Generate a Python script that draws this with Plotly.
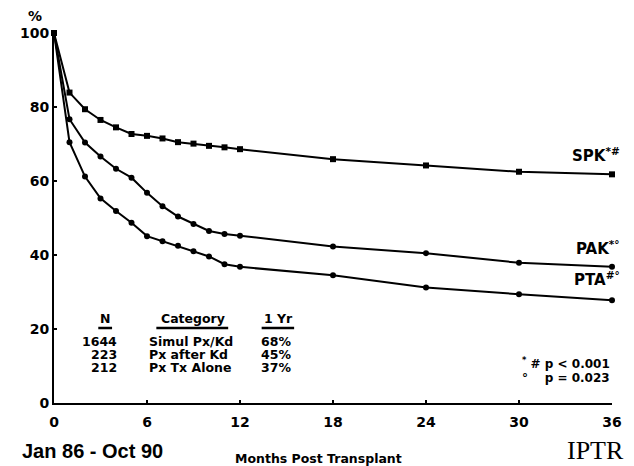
import plotly.graph_objects as go

months = [0, 1, 2, 3, 4, 5, 6, 7, 8, 9, 10, 11, 12, 18, 24, 30, 36]
spk = [100, 83.9, 79.4, 76.5, 74.5, 72.7, 72.2, 71.5, 70.5, 70.1, 69.5, 69.1, 68.6, 65.9, 64.2, 62.5, 61.8]
pak = [100, 76.7, 70.4, 66.6, 63.3, 60.9, 56.8, 53.2, 50.4, 48.4, 46.5, 45.7, 45.2, 42.3, 40.5, 37.9, 36.8]
pta = [100, 70.5, 61.2, 55.3, 51.9, 48.7, 45.1, 43.7, 42.5, 41.0, 39.6, 37.5, 36.8, 34.5, 31.2, 29.4, 27.8]
series_labels = ["SPK<sup>*#</sup>", "PAK<sup>*°</sup>", "PTA<sup>#°</sup>"]
x_ticks = [0, 6, 12, 18, 24, 30, 36]
y_ticks = [0, 20, 40, 60, 80, 100]
table_n = ["1644", "223", "212"]
table_cat = ["Simul Px/Kd", "Px after Kd", "Px Tx Alone"]
table_1yr = ["68%", "45%", "37%"]

DJ = "DejaVu Sans, sans-serif"
LIB = "Liberation Sans, Arial, sans-serif"
SERIF = "Liberation Serif, Times New Roman, serif"

fig = go.Figure()
for vals, sym, sz in [(spk, "square", 6), (pak, "circle", 6), (pta, "circle", 6)]:
    fig.add_trace(go.Scatter(x=months, y=vals, mode="lines+markers",
                             line=dict(color="black", width=2),
                             marker=dict(color="black", size=sz, symbol=sym),
                             cliponaxis=False, showlegend=False, hoverinfo="skip"))

# page body has an 8px margin; the figure is sized to fit the 634x466 window
fig.update_layout(
    width=626, height=458,
    margin=dict(l=41, r=18, t=25, b=63),
    paper_bgcolor="white", plot_bgcolor="white",
    font=dict(family=DJ, color="black"),
    xaxis=dict(range=[0, 36], tickvals=x_ticks, showgrid=False, zeroline=False,
               showline=True, linecolor="black", linewidth=2,
               ticks="inside", ticklen=3, tickwidth=1.5, tickcolor="black",
               ticklabelstandoff=5,
               tickfont=dict(size=14, weight="bold", family=DJ, color="black")),
    yaxis=dict(range=[0, 100], tickvals=y_ticks, showgrid=False, zeroline=False,
               showline=True, linecolor="black", linewidth=2,
               ticks="inside", ticklen=3, tickwidth=1.5, tickcolor="black",
               tickfont=dict(size=14, weight="bold", family=DJ, color="black")),
)

def px(xp, yp):
    # reference pixel -> plot-area paper coordinates
    return (xp - 49) / 567.0, (403 - yp) / 370.0

ann = []
def txt(xp, yp, s, size=12, xanchor="left", fam=DJ, weight="bold"):
    x0, y0 = px(xp, yp)
    ann.append(dict(x=x0, y=y0, xref="paper", yref="paper", text=s, showarrow=False,
                    xanchor=xanchor, yanchor="middle",
                    font=dict(size=size, family=fam, weight=weight, color="black")))

# series labels
for lab, yp in zip(series_labels, [155, 248, 279]):
    txt(626, yp, lab, size=15, xanchor="right")

txt(30, 16, "%", size=14, xanchor="center")
txt(14, 451, "Jan 86 - Oct 90", size=20, fam=LIB)
txt(231, 458, "Months Post Transplant", size=12.5)
txt(630, 450, "IPTR", size=26, xanchor="right", fam=SERIF, weight="normal")

# table
txt(101, 318, "N", size=12.5, xanchor="center")
txt(190, 318, "Category", size=12.5, xanchor="center")
txt(277, 318, "1 Yr", size=12.5, xanchor="center")
for i, yp in enumerate([341, 354, 367]):
    txt(115, yp, table_n[i], size=12.5, xanchor="right")
    txt(143, yp, table_cat[i], size=12.5, xanchor="left")
    txt(292, yp, table_1yr[i], size=12.5, xanchor="right")

# p-values
txt(616, 363, "<sup>*</sup> # p &lt; 0.001", size=12, xanchor="right")
txt(616, 378, "°&nbsp;&nbsp;&nbsp;&nbsp;p = 0.023", size=12, xanchor="right")

shapes = []
for x0p, x1p in [(94, 108), (153, 226), (260, 293)]:
    a, b = px(x0p, 328)
    c, _ = px(x1p, 328)
    shapes.append(dict(type="line", xref="paper", yref="paper", x0=a, x1=c, y0=b, y1=b,
                       line=dict(color="black", width=2.5)))

fig.update_layout(annotations=ann, shapes=shapes)
fig.write_html("out.html")
